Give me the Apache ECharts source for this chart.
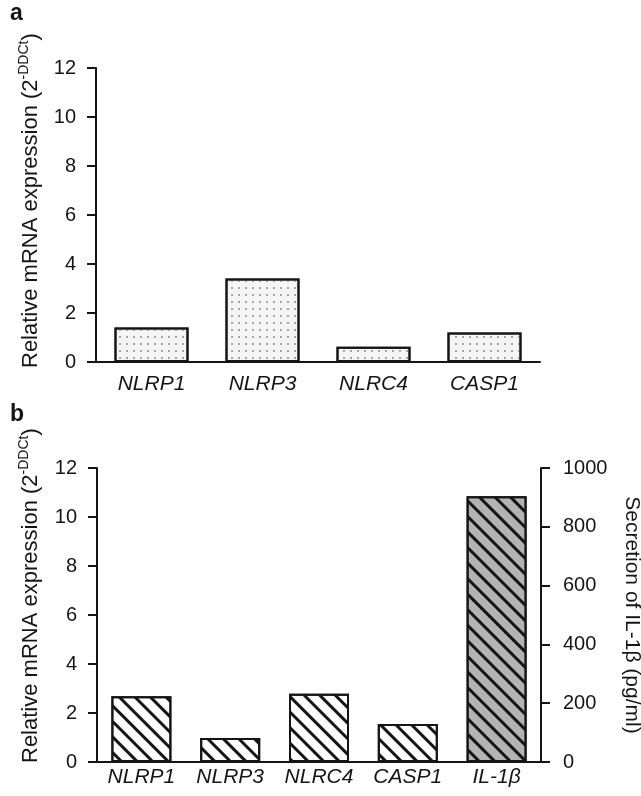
<!DOCTYPE html>
<html>
<head>
<meta charset="utf-8">
<title></title>
<style>
  html, body { margin: 0; padding: 0; background: #fff; }
  #wrap { width: 641px; height: 796px; }
</style>
<script src="https://cdn.jsdelivr.net/npm/echarts@6/dist/echarts.min.js"></script>
</head>
<body>
<div id="wrap"></div>
<script>
// panel a: relative mRNA expression
var genesA = ['NLRP1', 'NLRP3', 'NLRC4', 'CASP1'];
var mrnaA = [1.41, 3.41, 0.62, 1.2];

// panel b: mRNA (left axis) and IL-1β secretion (right axis)
var genesB = ['NLRP1', 'NLRP3', 'NLRC4', 'CASP1', 'IL-1β'];
var mrnaB = [2.68, 0.98, 2.79, 1.55, '-'];
var secretionB = ['-', '-', '-', '-', 904];

var mrnaTicks = [0, 12, 2];        // min, max, interval
var secretionTicks = [0, 1000, 200];

var FONT = 'Liberation Sans, Arial, sans-serif';
var INK = '#151515';

var dots = {
  symbol: 'circle', symbolSize: 1, color: '#8c8c8c',
  dashArrayX: [1.3, 4.4], dashArrayY: [1.3, 4.2]
};
var hatch = {
  symbol: 'rect', symbolSize: 1, color: INK,
  dashArrayX: [1, 0], dashArrayY: [2.5, 7.5], rotation: Math.PI / 4
};

function valueAxis(grid, t, pos, margin) {
  return {
    type: 'value', gridIndex: grid, position: pos,
    min: t[0], max: t[1], interval: t[2],
    axisLine: { show: true, lineStyle: { color: INK, width: 2 } },
    axisTick: { show: true, length: 9, lineStyle: { color: INK, width: 2 } },
    axisLabel: {
      fontSize: 20, color: INK, fontFamily: FONT, margin: margin,
      formatter: function (v) { return String(v); }
    },
    splitLine: { show: false }
  };
}

function catAxis(grid, cats, margin) {
  return {
    type: 'category', gridIndex: grid, data: cats,
    axisLine: { lineStyle: { color: INK, width: 2 } },
    axisTick: { show: false },
    axisLabel: {
      interval: 0, fontSize: 21, fontStyle: 'italic', color: INK,
      fontFamily: FONT, margin: margin
    }
  };
}

function yTitle(x, y) {
  return {
    type: 'text', x: x, y: y, rotation: Math.PI / 2,
    style: {
      text: '{m|Relative mRNA expression (2}{s|-DDCt}{m|)}',
      align: 'left', verticalAlign: 'middle',
      fill: INK, font: '22px ' + FONT,
      rich: {
        m: { fontSize: 22, fontFamily: FONT, fill: INK },
        s: { fontSize: 14, fontFamily: FONT, fill: INK, padding: [0, 0, 13, 0] }
      }
    }
  };
}

var chart = echarts.init(document.getElementById('wrap'));

chart.setOption({
  animation: false,
  textStyle: { fontFamily: FONT },
  grid: [
    { left: 96, top: 68, width: 444, height: 294, outerBoundsMode: 'none' },
    { left: 97, top: 468, width: 444, height: 294, outerBoundsMode: 'none' }
  ],
  xAxis: [catAxis(0, genesA, 12), catAxis(1, genesB, 5)],
  yAxis: [
    valueAxis(0, mrnaTicks, 'left', 20),
    valueAxis(1, mrnaTicks, 'left', 20),
    Object.assign(valueAxis(1, secretionTicks, 'right', 22), {
      name: 'Secretion of IL-1β (pg/ml)',
      nameLocation: 'middle', nameRotate: -90, nameGap: 80,
      nameTextStyle: { fontSize: 21, color: INK, fontFamily: FONT }
    })
  ],
  series: [
    {
      type: 'bar', xAxisIndex: 0, yAxisIndex: 0, data: mrnaA, barWidth: 74,
      itemStyle: { color: '#f5f5f5', borderColor: INK, borderWidth: 2, decal: dots }
    },
    {
      type: 'bar', xAxisIndex: 1, yAxisIndex: 1, data: mrnaB, barWidth: 60, barGap: '-100%',
      itemStyle: { color: '#ffffff', borderColor: INK, borderWidth: 2, decal: hatch }
    },
    {
      type: 'bar', xAxisIndex: 1, yAxisIndex: 2, data: secretionB, barWidth: 60, barGap: '-100%',
      itemStyle: { color: '#b3b3b3', borderColor: INK, borderWidth: 2, decal: hatch }
    }
  ],
  graphic: [
    { type: 'text', x: 10, y: 2, style: { text: 'a', font: 'bold 23px ' + FONT, fill: INK } },
    { type: 'text', x: 10, y: 403, style: { text: 'b', font: 'bold 23px ' + FONT, fill: INK } },
    yTitle(31, 368),
    yTitle(31, 763)
  ]
});
</script>
</body>
</html>
